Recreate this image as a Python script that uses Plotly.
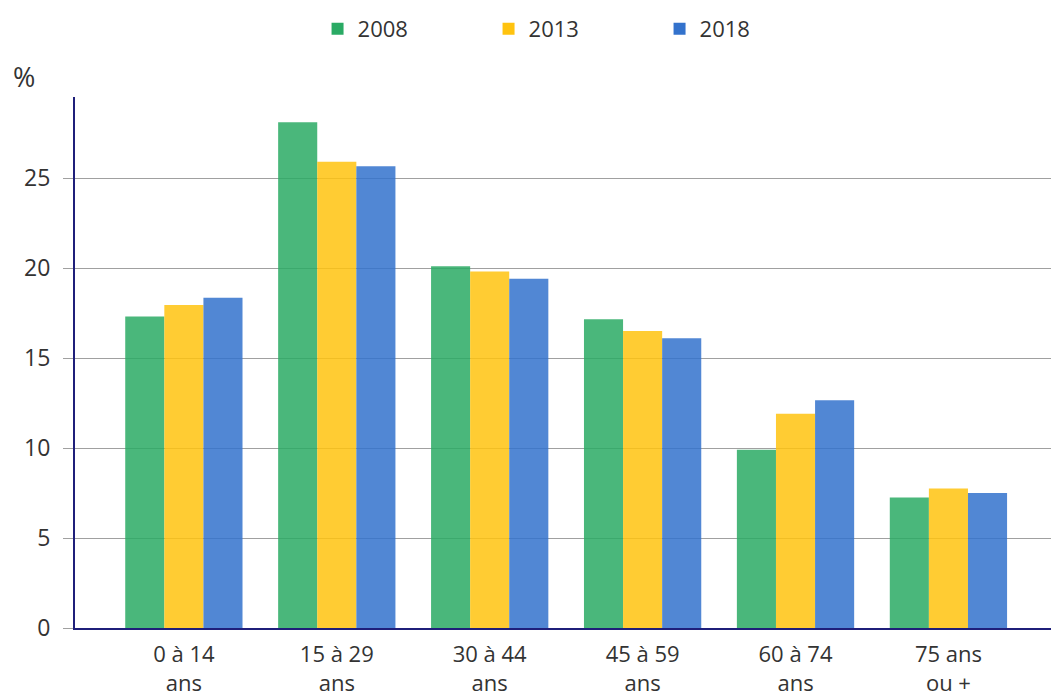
import plotly.graph_objects as go

categories = ["0 à 14<br>ans", "15 à 29<br>ans", "30 à 44<br>ans", "45 à 59<br>ans", "60 à 74<br>ans", "75 ans<br>ou +"]
series_names = ["2008", "2013", "2018"]
values_2008 = [17.3, 28.1, 20.1, 17.15, 9.9, 7.25]
values_2013 = [17.95, 25.9, 19.8, 16.5, 11.9, 7.75]
values_2018 = [18.35, 25.65, 19.4, 16.1, 12.65, 7.5]
y_ticks = [0, 5, 10, 15, 20, 25]

colors = ["#2aaa64", "#ffc30f", "#3372cc"]
all_values = [values_2008, values_2013, values_2018]

fig = go.Figure()
for name, vals, col in zip(series_names, all_values, colors):
    fig.add_trace(go.Bar(
        x=list(range(len(categories))), y=vals, name=name,
        marker=dict(color=col, opacity=0.85, line=dict(width=0)),
    ))

font_family = "Open Sans, Noto Sans, sans-serif"
# the page body adds an 8px offset, so the figure is 8px smaller on each side
fig.update_layout(
    width=1051, height=688,
    margin=dict(l=67, r=2, t=89, b=68, autoexpand=False),
    paper_bgcolor="white", plot_bgcolor="white",
    barmode="group", bargap=0.233, bargroupgap=0,
    font=dict(family=font_family, size=22, color="#333333"),
    legend=dict(orientation="h", x=0.247, xanchor="left", y=1.0, yref="container",
                yanchor="top", font=dict(size=22, color="#333333"),
                entrywidth=126, entrywidthmode="pixels", traceorder="normal"),
    showlegend=True,
    annotations=[dict(text="%", xref="paper", yref="paper", x=-0.052, y=1.0377,
                      xanchor="center", yanchor="middle", showarrow=False,
                      font=dict(size=27, color="#333333"))],
)
fig.update_xaxes(
    tickmode="array", tickvals=list(range(len(categories))), ticktext=categories,
    range=[-0.712, 5.71], showgrid=False, showline=True, linecolor="#1f1f7a",
    linewidth=2, ticks="outside", ticklen=6, tickcolor="rgba(0,0,0,0)",
    tickfont=dict(size=22, color="#333333"), automargin=False,
)
fig.update_yaxes(
    range=[0, 29.5], tickvals=y_ticks, showgrid=True, gridcolor="#a0a0a0", gridwidth=1,
    showline=True, linecolor="#1f1f7a", linewidth=2, ticks="outside", ticklen=10,
    tickcolor="#a0a0a0", tickfont=dict(size=23, color="#333333"), zeroline=False,
    ticklabelstandoff=8, automargin=False,
)
fig.write_html("out.html")
